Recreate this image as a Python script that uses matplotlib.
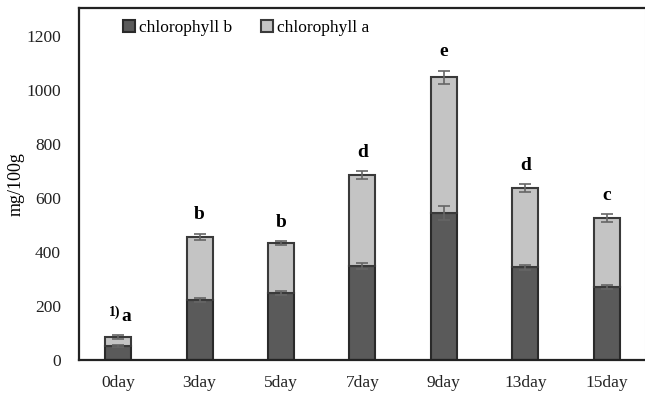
import matplotlib.pyplot as plt
import numpy as np

plt.rcParams['font.family'] = ['Liberation Serif', 'DejaVu Serif']

days = ['0day', '3day', '5day', '7day', '9day', '13day', '15day']
chl_b = [52, 222, 248, 348, 544, 344, 270]
chl_total = [85, 456, 433, 685, 1048, 637, 526]
err_b = [5, 8, 8, 10, 25, 9, 8]
err_total = [6, 12, 8, 14, 24, 14, 15]
letters = ['a', 'b', 'b', 'd', 'e', 'd', 'c']

chl_a = [t - b for t, b in zip(chl_total, chl_b)]
x = np.arange(len(days))

fig = plt.figure(figsize=(6.45, 3.94), dpi=100)
ax = fig.add_axes([0.1225, 0.0863, 0.8775, 0.8934])

w = 0.32
ax.bar(x, chl_b, w, color='#5a5a5a', edgecolor='#2a2a2a', linewidth=1.5,
       label='chlorophyll b', zorder=2)
ax.bar(x, chl_a, w, bottom=chl_b, color='#c4c4c4', edgecolor='#3a3a3a',
       linewidth=1.5, label='chlorophyll a', zorder=2)
ax.errorbar(x, chl_b, yerr=err_b, fmt='none', ecolor='#666666', elinewidth=1.2,
            capsize=4, capthick=1.2, zorder=3)
ax.errorbar(x, chl_total, yerr=err_total, fmt='none', ecolor='#666666',
            elinewidth=1.2, capsize=4, capthick=1.2, zorder=3)

for i, (t, e, l) in enumerate(zip(chl_total, err_total, letters)):
    xi = x[i] + (0.1 if i == 0 else 0)
    ax.text(xi, t + e + 38, l, ha='center', va='bottom', fontsize=14,
            fontweight='bold')
ax.text(x[0] + 0.03, chl_total[0] + err_total[0] + 62, '1)', ha='right',
        va='bottom', fontsize=10, fontweight='bold')

ax.set_xlim(-0.48, 6.47)
ax.set_ylim(0, 1304)
ax.set_yticks(range(0, 1201, 200))
ax.set_xticks(x)
ax.set_xticklabels(days)
ax.tick_params(length=0, labelsize=12.5, colors='#222222')
ax.tick_params(axis='x', pad=11)
ax.tick_params(axis='y', pad=13)
ax.set_ylabel('mg/100g', fontsize=13, labelpad=1)

for s in ['left', 'top', 'bottom']:
    ax.spines[s].set_linewidth(1.6)
    ax.spines[s].set_color('#222222')
ax.spines['right'].set_color('#dddddd')

ax.legend(loc='upper left', bbox_to_anchor=(0.05, 1.01), ncol=2, frameon=False,
          fontsize=12.5, handlelength=0.7, handleheight=0.7, handletextpad=0.2,
          columnspacing=1.7)

plt.savefig('out.png', dpi=100)
